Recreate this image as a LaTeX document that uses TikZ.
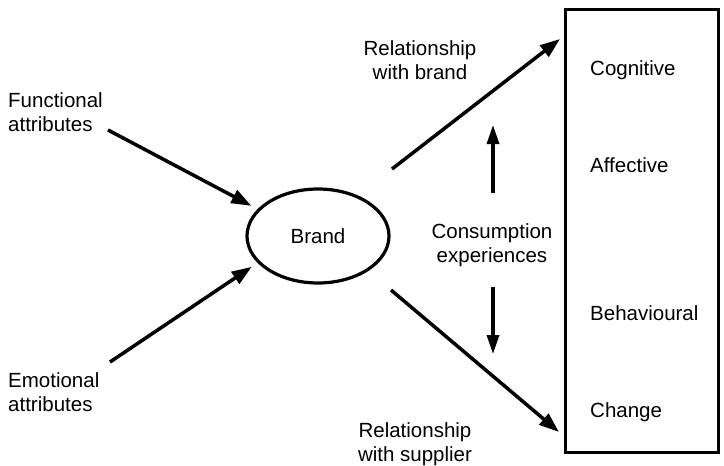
\documentclass[tikz,border=0pt]{standalone}
\usepackage{fontspec}
\setmainfont{Liberation Sans}
\usetikzlibrary{arrows.meta,shapes.geometric}
\begin{document}
\begin{tikzpicture}[x=1pt,y=-1pt,
  lbl/.style={font=\fontsize{20.5}{24}\selectfont, inner sep=0pt},
  conn/.style={line width=3.5pt, -{Triangle[length=20pt,width=14pt]}},
  vconn/.style={line width=3.3pt, -{Triangle[length=19pt,width=12pt]}}]
\useasboundingbox (0,0) rectangle (724,466);
% brand ellipse
\node[draw, ellipse, line width=3.2pt, minimum width=142pt, minimum height=94pt, inner sep=0pt,
      font=\fontsize{20.5}{24}\selectfont] (brand) at (318,236) {Brand};
% right box
\node[draw, line width=3pt, minimum width=153.5pt, minimum height=442.5pt, inner sep=0pt] (box) at (641.75,230.75) {};
\node[lbl, anchor=base west] (cog) at (590,75) {Cognitive};
\node[lbl, anchor=base west] (aff) at (590,172) {Affective};
\node[lbl, anchor=base west] (beh) at (590,320) {Behavioural};
\node[lbl, anchor=base west] (chg) at (590,417) {Change};
% left labels
\node[lbl, align=left, anchor=west] (func) at (8,112) {Functional\\attributes};
\node[lbl, align=left, anchor=west] (emo) at (8,392) {Emotional\\attributes};
% middle labels
\node[lbl, align=center] (relb) at (420,60.5) {Relationship\\with brand};
\node[lbl, align=center] (cons) at (492,245.5) {Consumption\\experiences};
\node[lbl, align=center] (rels) at (415,444.5) {Relationship\\with supplier};
% arrow endpoints
\coordinate (f1) at (108,130);
\coordinate (e1) at (110,362);
\coordinate (b1) at (392,169);
\coordinate (b2) at (560,39);
\coordinate (s1) at (391,290);
\coordinate (s2) at (559,432);
\coordinate (u1) at (493,193);
\coordinate (u2) at (493,125);
\coordinate (d1) at (493,287);
\coordinate (d2) at (493,354);
% connectors
\draw[conn, shorten >=7pt] (f1) -- (brand.156);
\draw[conn, shorten >=7pt] (e1) -- (brand.204);
\draw[conn] (b1) -- (b2);
\draw[conn] (s1) -- (s2);
\draw[vconn] (u1) -- (u2);
\draw[vconn] (d1) -- (d2);
\end{tikzpicture}
\end{document}
